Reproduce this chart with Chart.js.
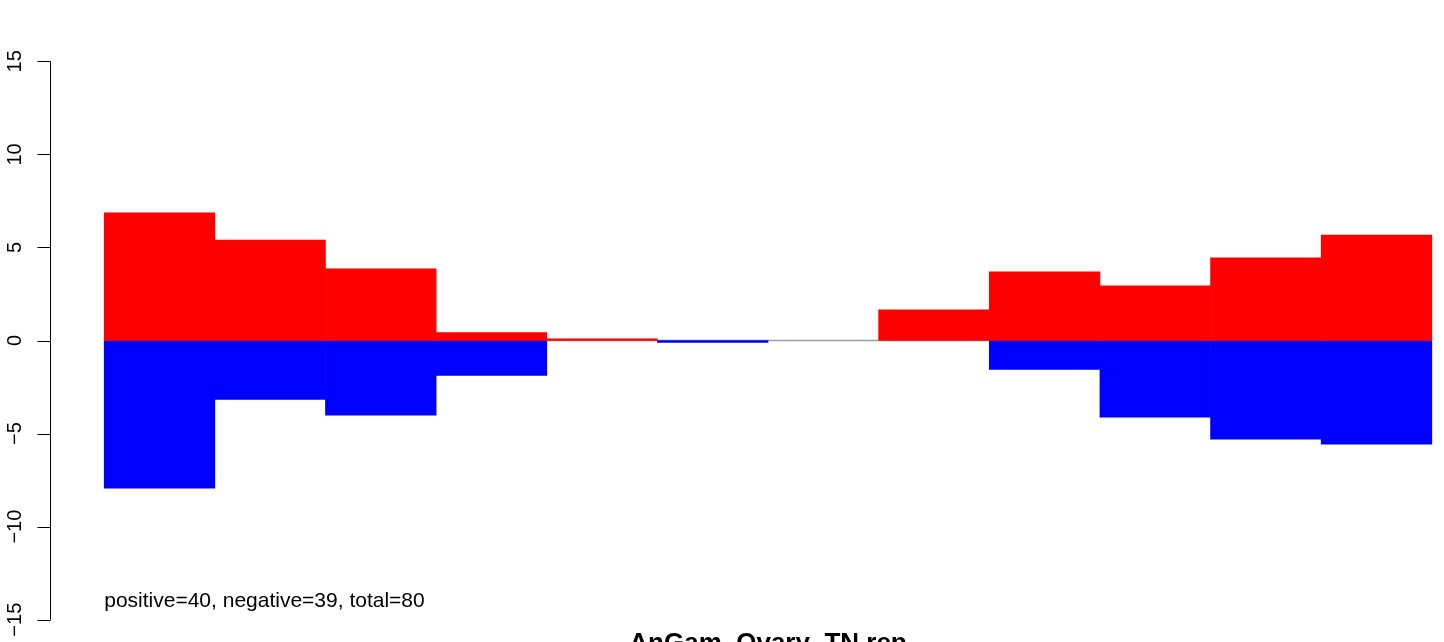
<!DOCTYPE html>
<html>
<head>
<meta charset="utf-8">
<script src="https://cdn.jsdelivr.net/npm/chart.js@4/dist/chart.umd.min.js"></script>
<style>
  html, body { margin: 0; padding: 0; background: #ffffff; }
  #wrap { width: 1444px; height: 642px; position: relative; }
  canvas { display: block; }
</style>
</head>
<body>
<div id="wrap"><canvas id="c" width="1444" height="642"></canvas></div>
<script>
// ---- data ----
const bins = ["1","2","3","4","5","6","7","8","9","10","11","12"];
const positiveValues = [6.86, 5.40, 3.85, 0.42, 0.09, 0, 0, 1.65, 3.69, 2.94, 4.44, 5.67];
const negativeValues = [-7.93, -3.17, -4.01, -1.87, 0, -0.10, 0, 0, -1.56, -4.12, -5.30, -5.57];
const yTickValues = [-15, -10, -5, 0, 5, 10, 15];
const yTickLabels = ["\u221215", "\u221210", "\u22125", "0", "5", "10", "15"];
const annotationText = "positive=40, negative=39, total=80";
const titleText = "AnGam_Ovary_TN.rep";

const FONT = '"Liberation Sans", Arial, Helvetica, sans-serif';

const toPoints = vals => vals.map((v, i) => ({ x: i + 0.5, y: v }));

const rAxisPlugin = {
  id: 'rAxis',
  afterDraw(chart) {
    const { ctx, scales: { x, y } } = chart;
    const ax = Math.round(x.getPixelForValue(x.min)) + 0.5;
    ctx.save();
    ctx.strokeStyle = '#000';
    ctx.lineWidth = 1;
    ctx.beginPath();
    ctx.moveTo(ax, y.getPixelForValue(yTickValues[0]));
    ctx.lineTo(ax, y.getPixelForValue(yTickValues[yTickValues.length - 1]));
    ctx.stroke();
    ctx.font = '20px ' + FONT;
    ctx.fillStyle = '#000';
    ctx.textAlign = 'center';
    ctx.textBaseline = 'alphabetic';
    yTickValues.forEach((v, i) => {
      const py = Math.round(y.getPixelForValue(v)) + 0.5;
      ctx.beginPath();
      ctx.moveTo(ax - 13, py);
      ctx.lineTo(ax, py);
      ctx.stroke();
      ctx.save();
      ctx.translate(ax - 29.5, y.getPixelForValue(v));
      ctx.rotate(-Math.PI / 2);
      ctx.fillText(yTickLabels[i], 0, 0);
      ctx.restore();
    });
    // annotation inside the plot
    ctx.font = '21px ' + FONT;
    ctx.textAlign = 'left';
    ctx.textBaseline = 'middle';
    ctx.fillText(annotationText, x.getPixelForValue(0), y.getPixelForValue(-14));
    // title (below plot, clipped by the canvas edge)
    ctx.font = 'bold 26px ' + FONT;
    ctx.textAlign = 'center';
    ctx.textBaseline = 'alphabetic';
    ctx.fillText(titleText, x.getPixelForValue(6), 651);
    ctx.restore();
  }
};

new Chart(document.getElementById('c'), {
  type: 'bar',
  data: {
    labels: bins,
    datasets: [
      {
        type: 'line',
        label: 'zero',
        data: [{ x: 0, y: 0 }, { x: bins.length, y: 0 }],
        borderColor: '#a0a0a0',
        borderWidth: 1.5,
        pointRadius: 0,
        fill: false,
        stack: 'zero',
        order: 3
      },
      {
        label: 'positive',
        data: toPoints(positiveValues),
        backgroundColor: '#ff0000',
        borderWidth: 0,
        barPercentage: 1,
        categoryPercentage: 1,
        inflateAmount: ctx => (ctx.parsed && ctx.parsed.y === 0 ? 0 : 0.33),
        stack: 'a',
        order: 1
      },
      {
        label: 'negative',
        data: toPoints(negativeValues),
        backgroundColor: '#0000ff',
        borderWidth: 0,
        barPercentage: 1,
        categoryPercentage: 1,
        inflateAmount: ctx => (ctx.parsed && ctx.parsed.y === 0 ? 0 : 0.33),
        stack: 'a',
        order: 2
      }
    ]
  },
  options: {
    responsive: false,
    animation: false,
    layout: { padding: { left: 50, top: 39, right: 0, bottom: 0 } },
    plugins: { legend: { display: false }, tooltip: { enabled: false }, title: { display: false } },
    scales: {
      x: {
        type: 'linear', min: -0.49, max: 12.11, display: false, stacked: true, offset: false,
        afterBuildTicks: scale => { scale.ticks = []; }
      },
      y: { type: 'linear', min: -16.2, max: 16.2, display: false, stacked: true }
    }
  },
  plugins: [rAxisPlugin]
});
</script>
</body>
</html>
